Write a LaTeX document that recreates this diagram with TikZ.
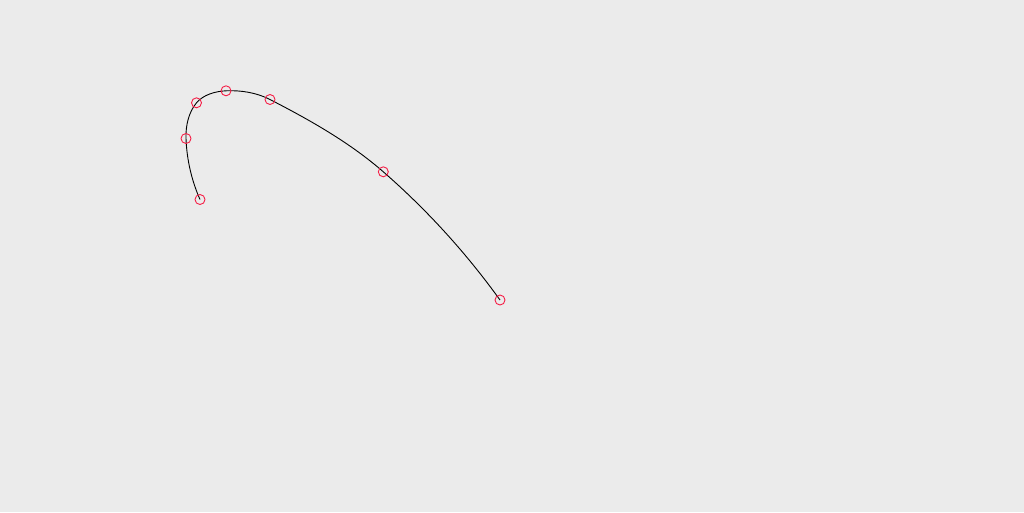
\documentclass[tikz,border=0pt]{standalone}
\definecolor{bg}{RGB}{235,235,235}
\definecolor{ptred}{RGB}{245,30,70}
\tikzset{
  ptmark/.style={circle, draw=ptred, line width=0.9pt, minimum size=10pt, inner sep=0pt},
  curveline/.style={draw=black, line width=0.9pt}
}
\begin{document}
\begin{tikzpicture}[x=1pt,y=-1pt]
\fill[bg] (0,0) rectangle (1024,512);
\useasboundingbox (0,0) rectangle (1024,512);
\coordinate (c1) at (200,199.5);
\coordinate (c2) at (186,138.5);
\coordinate (c3) at (196.5,102.8);
\coordinate (c4) at (226,90.8);
\coordinate (c5) at (270,99.5);
\coordinate (c6) at (383.3,171.8);
\coordinate (c7) at (500,300);
\draw[curveline] (c1)
  .. controls (191.56,180.36) and (186.75,159.38) .. (c2)
  .. controls (185.55,126.11) and (188.53,112.3) .. (c3)
  .. controls (203.32,94.68) and (215.41,91.28) .. (c4)
  .. controls (240.94,90.13) and (256.71,92.65) .. (c5)
  .. controls (309.83,120.02) and (349.52,142.37) .. (c6)
  .. controls (426.88,209.77) and (466.3,253.12) .. (c7);
\foreach \i in {1,...,7} {
  \node[ptmark] (m\i) at (c\i) {};
}
\end{tikzpicture}
\end{document}
